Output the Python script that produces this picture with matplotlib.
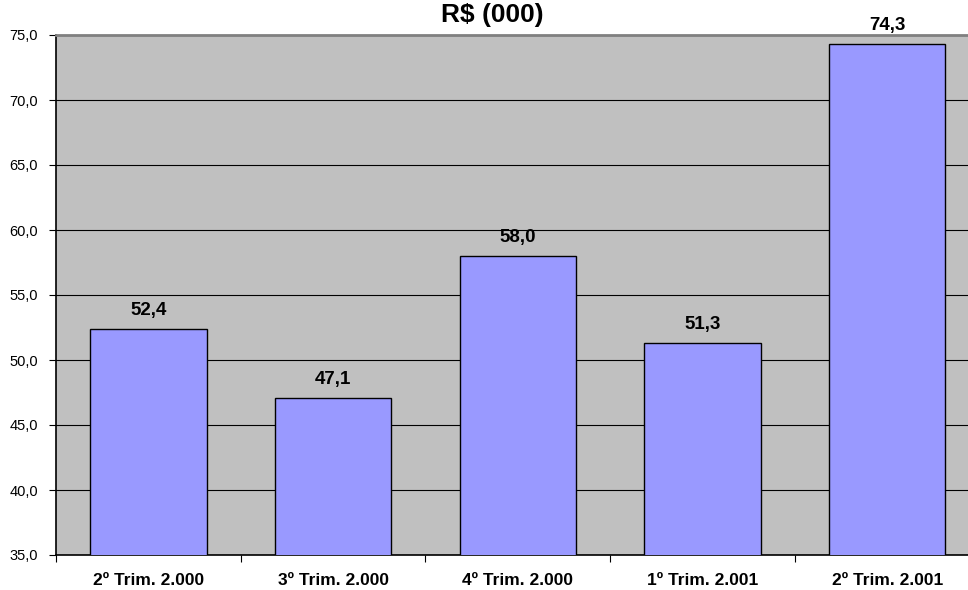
import matplotlib.pyplot as plt
from matplotlib.ticker import FixedLocator, FuncFormatter

plt.rcParams['font.family'] = ['Liberation Sans', 'DejaVu Sans']

# data
categories = ["2º Trim. 2.000", "3º Trim. 2.000", "4º Trim. 2.000",
              "1º Trim. 2.001", "2º Trim. 2.001"]
values = [52.4, 47.1, 58.0, 51.3, 74.3]
y_ticks = [35, 40, 45, 50, 55, 60, 65, 70, 75]

fig = plt.figure(figsize=(9.68, 5.90), dpi=100)
# plot area runs slightly past the right edge, as in the original
ax = fig.add_axes([56 / 968, 35 / 590, 923.5 / 968, 520 / 590])
ax.set_facecolor("#C0C0C0")

x = range(len(categories))
bars = ax.bar(x, values, width=0.63, color="#9999FF", edgecolor="black",
              linewidth=1.0, zorder=3)

ax.set_xlim(-0.5, len(categories) - 0.5)
ax.set_ylim(35, 75)

# grid
ax.yaxis.set_major_locator(FixedLocator(y_ticks))
ax.grid(axis="y", color="black", linewidth=0.8, zorder=1)
ax.set_axisbelow(True)

fmt = lambda v, p: f"{v:.1f}".replace(".", ",")
ax.yaxis.set_major_formatter(FuncFormatter(fmt))
ax.tick_params(axis="y", direction="out", length=5, width=0.8, pad=8,
               labelsize=10.5, colors="black")

# category labels centered, ticks between categories
ax.set_xticks(list(x))
ax.set_xticklabels(categories, fontsize=12.5, fontweight="bold")
ax.tick_params(axis="x", which="major", length=0, pad=13)
ax.set_xticks([i + 0.5 for i in range(-1, len(categories))], minor=True)
ax.tick_params(axis="x", which="minor", direction="out", length=5, width=0.8)

for s in ("left", "bottom"):
    ax.spines[s].set_color("black")
    ax.spines[s].set_linewidth(1.2)
ax.spines["top"].set_color("#808080")
ax.spines["top"].set_linewidth(2)
ax.spines["right"].set_visible(False)

for rect, v in zip(bars, values):
    ax.annotate(fmt(v, None), (rect.get_x() + rect.get_width() / 2, v),
                xytext=(0, 7), textcoords="offset points",
                ha="center", va="bottom", fontsize=13.5, fontweight="bold",
                annotation_clip=False)

fig.text(492 / 968, 1 - 15 / 590, "R$ (000)", ha="center", va="center",
         fontsize=19, fontweight="bold")

fig.savefig("out.png", dpi=100)
